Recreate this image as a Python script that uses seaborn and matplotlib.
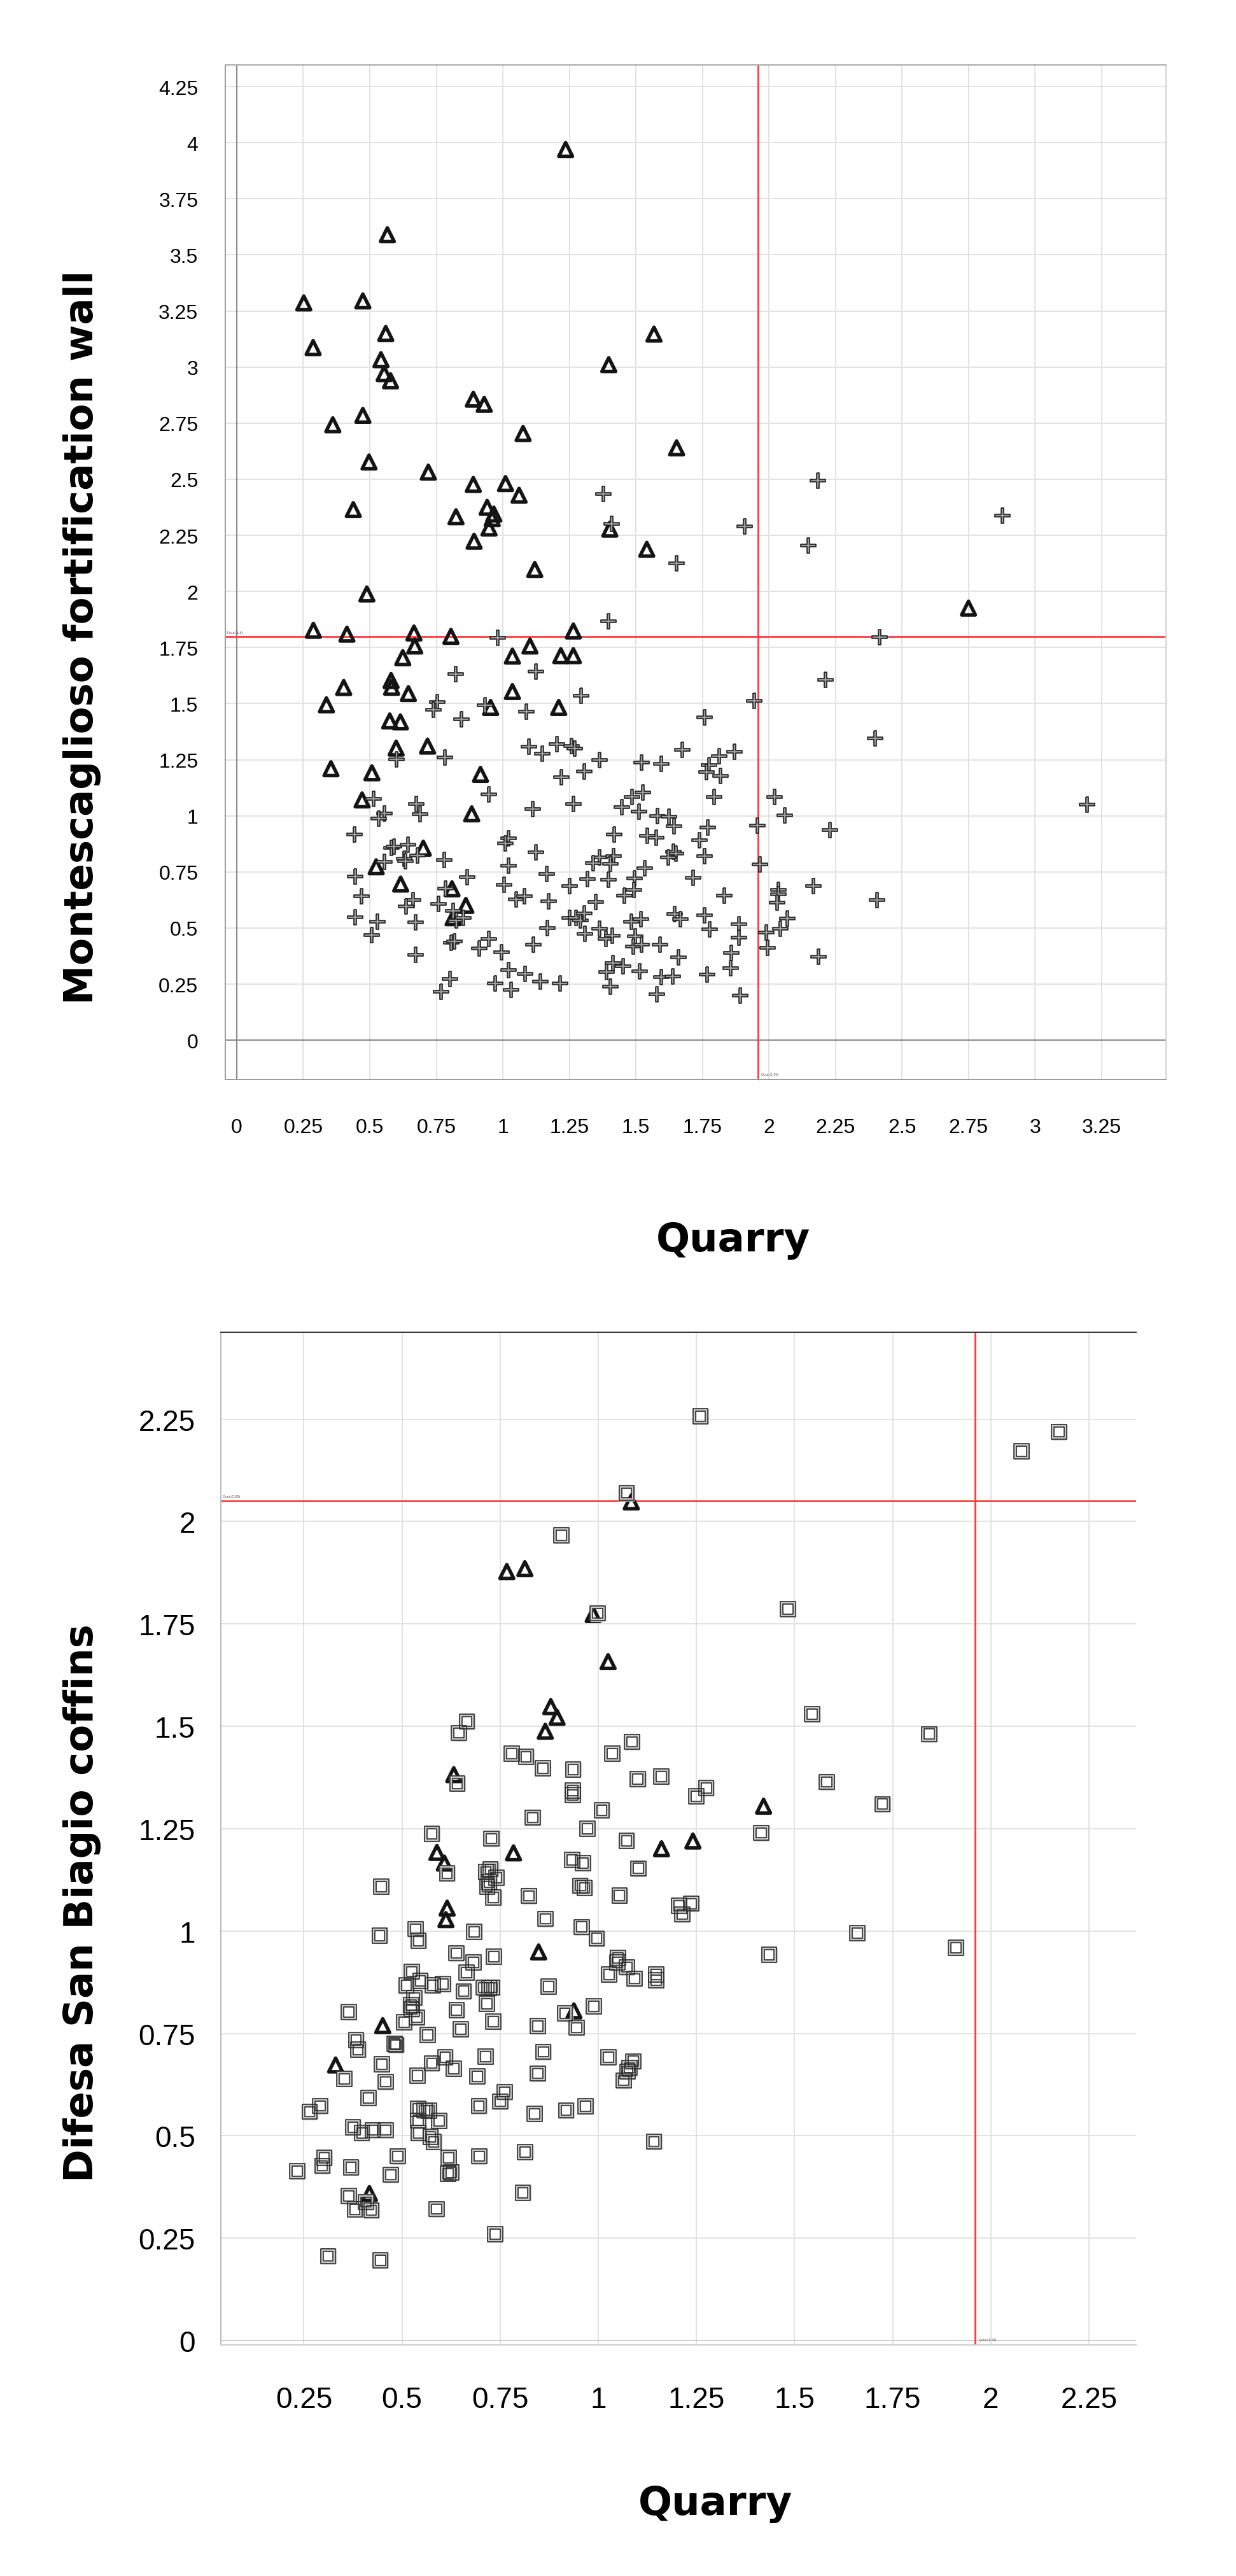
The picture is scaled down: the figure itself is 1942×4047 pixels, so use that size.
import seaborn as sns
import matplotlib.pyplot as plt
import warnings

warnings.filterwarnings("ignore")

# ---------------- data ----------------
# upper panel: Montescaglioso fortification wall vs Quarry
top_tri_x = [1.236, 0.566, 0.252, 0.474, 0.287, 0.560, 1.568, 0.542, 1.398, 0.554, 0.578,
             0.889, 0.930, 0.474, 0.361, 1.076, 1.653, 0.497, 0.720, 0.889, 1.010, 1.061,
             0.438, 0.824, 0.941, 0.966, 0.960, 0.948, 1.402, 0.892, 1.541, 1.120, 0.489,
             2.750, 0.288, 0.414, 0.666, 0.805, 0.669, 0.624, 1.102, 1.036, 1.218, 1.265,
             1.265, 0.402, 0.337, 0.580, 0.582, 0.645, 1.036, 0.954, 1.210, 0.575, 0.615,
             0.599, 0.717, 0.354, 0.508, 0.916, 0.471, 0.883, 0.701, 0.524, 0.616, 0.809,
             0.861, 0.813]
top_tri_y = [3.970, 3.590, 3.286, 3.295, 3.087, 3.150, 3.147, 3.033, 3.011, 2.971, 2.939,
             2.857, 2.834, 2.785, 2.743, 2.704, 2.640, 2.577, 2.532, 2.477, 2.481, 2.429,
             2.365, 2.333, 2.375, 2.345, 2.325, 2.283, 2.278, 2.224, 2.188, 2.098, 1.989,
             1.926, 1.827, 1.810, 1.815, 1.800, 1.757, 1.705, 1.757, 1.712, 1.714, 1.714,
             1.824, 1.572, 1.495, 1.603, 1.573, 1.545, 1.554, 1.483, 1.483, 1.423, 1.419,
             1.302, 1.311, 1.210, 1.192, 1.185, 1.071, 1.009, 0.856, 0.773, 0.696, 0.675,
             0.601, 0.546]

top_plus_x = [0.980, 0.823, 1.124, 0.753, 0.739, 0.845, 0.932, 1.089, 1.098, 1.147, 1.203,
              1.258, 0.601, 0.783, 1.219, 0.948, 1.112, 1.265, 0.515, 0.675, 0.688, 0.555,
              0.534, 0.442, 0.582, 0.592, 0.643, 0.629, 0.633, 0.680, 0.554, 0.781, 1.022,
              1.010, 1.124, 1.022, 0.446, 0.866, 1.165, 1.004, 1.251, 0.468, 0.785, 0.663,
              0.637, 0.759, 1.050, 1.080, 1.171, 0.813, 0.825, 0.852, 0.446, 0.528, 0.673,
              0.508, 1.167, 1.251, 0.805, 0.817, 0.948, 0.911, 0.994, 1.114, 0.673, 1.022,
              1.084, 1.141, 1.215, 0.972, 1.032, 0.802, 0.769,
              1.397, 2.213, 1.295, 1.945, 1.757, 1.271, 1.363, 1.307, 1.522, 1.596, 1.674,
              1.812, 1.871, 1.776, 1.765, 1.817, 1.795, 2.020, 2.060, 1.446, 1.486, 1.526,
              1.512, 1.582, 1.623, 1.644, 1.771, 1.957, 1.419, 1.544, 1.576, 1.739, 1.642,
              1.650, 1.622, 1.759, 1.363, 1.339, 1.415, 1.403, 1.534, 1.965, 1.319, 1.397,
              1.494, 1.716, 1.493, 1.456, 1.349, 1.832, 2.036, 2.036, 2.030, 2.166, 1.275,
              1.291, 1.307, 1.309, 1.363, 1.387, 1.411, 1.482, 1.520, 1.498, 1.490, 1.522,
              1.590, 1.646, 1.667, 1.757, 1.777, 1.887, 1.887, 1.859, 1.857, 1.660, 1.413,
              1.451, 1.389, 1.403, 1.513, 1.596, 1.638, 1.579, 1.767, 1.893, 1.991, 1.994,
              2.042, 2.070, 2.186, 2.230,
              1.378, 2.184, 1.410, 1.908, 2.878, 2.148, 1.653, 2.415, 2.400, 2.406, 3.195]
top_plus_y = [1.794, 1.632, 1.644, 1.508, 1.474, 1.431, 1.493, 1.465, 1.308, 1.277, 1.320,
              1.310, 1.253, 1.259, 1.171, 1.096, 1.031, 1.052, 1.077, 1.052, 1.007, 1.011,
              0.989, 0.917, 0.856, 0.862, 0.872, 0.810, 0.798, 0.822, 0.794, 0.804, 0.899,
              0.878, 0.837, 0.779, 0.730, 0.728, 0.740, 0.693, 0.687, 0.642, 0.677, 0.626,
              0.595, 0.607, 0.629, 0.642, 0.620, 0.577, 0.533, 0.546, 0.548, 0.527, 0.525,
              0.469, 0.499, 0.546, 0.435, 0.441, 0.453, 0.408, 0.392, 0.425, 0.382, 0.312,
              0.297, 0.263, 0.253, 0.253, 0.226, 0.273, 0.216,
              1.868, 1.607, 1.534, 1.514, 1.438, 1.299, 1.249, 1.198, 1.237, 1.231, 1.295,
              1.265, 1.286, 1.226, 1.195, 1.179, 1.083, 1.085, 1.003, 1.038, 1.085, 1.104,
              1.019, 0.998, 0.997, 0.954, 0.949, 0.958, 0.918, 0.912, 0.903, 0.890, 0.841,
              0.831, 0.816, 0.820, 0.816, 0.789, 0.820, 0.786, 0.767, 0.783, 0.718, 0.716,
              0.721, 0.724, 0.669, 0.644, 0.617, 0.644, 0.669, 0.650, 0.613, 0.687, 0.546,
              0.533, 0.564, 0.474, 0.497, 0.451, 0.466, 0.527, 0.540, 0.462, 0.417, 0.425,
              0.425, 0.562, 0.540, 0.556, 0.494, 0.518, 0.457, 0.390, 0.321, 0.370, 0.343,
              0.330, 0.303, 0.238, 0.306, 0.281, 0.284, 0.204, 0.294, 0.199, 0.481, 0.413,
              0.497, 0.542, 0.373, 0.937,
              2.436, 2.494, 2.302, 2.291, 2.338, 2.206, 2.125, 1.797, 1.344, 0.624, 1.051]

# lower panel: Difesa San Biagio coffins vs Quarry
bot_sq_x = [0.665, 0.645, 0.641, 0.576, 0.728,
            1.260, 1.072, 0.906, 0.998, 0.780, 0.816, 0.859, 0.936, 0.935, 0.935, 1.036,
            1.086, 1.101, 1.160, 1.250, 1.275, 0.833, 1.009, 0.972, 1.072,
            0.615, 0.714, 0.725, 0.741, 0.722, 0.717, 0.733, 0.447, 0.443, 0.535, 0.542,
            0.684, 0.638, 0.734, 0.682, 0.664, 0.525, 0.547, 0.511, 0.578, 0.604, 0.657,
            0.708, 0.722, 0.729, 0.531, 0.523, 0.525, 0.538, 0.505, 0.716, 0.639, 0.732,
            0.650, 0.566, 0.364, 0.383, 0.388, 0.481, 0.485, 0.353, 0.449, 0.458, 0.415,
            0.292, 0.265, 0.375, 0.398, 0.425, 0.459, 0.302, 0.297, 0.233, 0.370, 0.364,
            0.380, 0.408, 0.422, 0.312, 0.445, 0.489, 0.471, 0.540, 0.576, 0.610, 0.632,
            0.692, 0.713, 0.541, 0.557, 0.569, 0.541, 0.595, 0.542, 0.573, 0.581, 0.696,
            0.750, 0.762, 0.619, 0.617, 0.626, 0.697, 0.588, 0.737,
            0.933, 0.961, 1.102, 0.823, 0.954, 0.965, 1.054, 1.206, 1.237, 1.214, 0.865,
            0.958, 0.996, 1.050, 1.049, 1.073, 1.027, 1.092, 1.147, 1.147, 0.873, 0.989,
            0.915, 0.945, 0.846, 0.860, 0.846, 1.026, 1.089, 1.079, 1.075, 1.065, 0.838,
            0.918, 0.968, 1.142, 0.814, 0.808,
            2.078, 2.174, 1.483, 1.545, 1.843, 1.582, 1.724, 1.415, 1.660, 1.911, 1.435]
bot_sq_y = [1.512, 1.484, 1.360, 1.237, 1.226,
            2.257, 2.070, 1.967, 1.776, 1.433, 1.426, 1.398, 1.394, 1.343, 1.332, 1.433,
            1.462, 1.371, 1.377, 1.329, 1.349, 1.277, 1.295, 1.250, 1.220,
            1.141, 1.144, 1.151, 1.130, 1.119, 1.108, 1.082, 1.108, 0.989, 1.005, 0.976,
            0.998, 0.946, 0.937, 0.923, 0.899, 0.901, 0.878, 0.867, 0.868, 0.871, 0.853,
            0.862, 0.861, 0.862, 0.837, 0.819, 0.809, 0.789, 0.777, 0.822, 0.807, 0.779,
            0.760, 0.746, 0.802, 0.734, 0.711, 0.725, 0.722, 0.639, 0.675, 0.632, 0.592,
            0.573, 0.559, 0.521, 0.507, 0.514, 0.514, 0.446, 0.427, 0.414, 0.423, 0.353,
            0.320, 0.338, 0.318, 0.206, 0.196, 0.450, 0.405, 0.647, 0.677, 0.692, 0.664,
            0.645, 0.693, 0.566, 0.562, 0.561, 0.537, 0.536, 0.507, 0.498, 0.485, 0.573,
            0.584, 0.607, 0.446, 0.407, 0.411, 0.450, 0.321, 0.260,
            1.174, 1.166, 1.153, 1.086, 1.111, 1.105, 1.087, 1.062, 1.067, 1.041, 1.030,
            1.010, 0.982, 0.934, 0.923, 0.912, 0.894, 0.884, 0.894, 0.880, 0.864, 0.816,
            0.799, 0.764, 0.768, 0.705, 0.652, 0.692, 0.682, 0.666, 0.657, 0.635, 0.554,
            0.562, 0.572, 0.486, 0.460, 0.361,
            2.172, 2.219, 1.786, 1.530, 1.481, 1.364, 1.310, 1.240, 0.995, 0.959, 0.942]

bot_tri_x = [1.084, 0.767, 0.813, 0.987, 1.025, 0.879, 0.895, 0.865, 0.632, 1.421, 0.589,
             0.608, 0.784, 1.161, 1.241, 0.615, 0.612, 0.848, 0.938, 0.451, 0.331, 0.417]
bot_tri_y = [2.048, 1.878, 1.885, 1.773, 1.658, 1.548, 1.522, 1.488, 1.382, 1.305, 1.192,
             1.166, 1.191, 1.201, 1.220, 1.056, 1.028, 0.949, 0.805, 0.769, 0.673, 0.359]

# cut-off lines
top_qcut, top_dcut = 1.96, 1.8
bot_qcut, bot_dcut = 1.96, 2.05

top_xticks = [0, 0.25, 0.5, 0.75, 1, 1.25, 1.5, 1.75, 2, 2.25, 2.5, 2.75, 3, 3.25]
top_yticks = [0, 0.25, 0.5, 0.75, 1, 1.25, 1.5, 1.75, 2, 2.25, 2.5, 2.75, 3, 3.25, 3.5,
              3.75, 4, 4.25]
bot_xticks = [0.25, 0.5, 0.75, 1, 1.25, 1.5, 1.75, 2, 2.25]
bot_yticks = [0, 0.25, 0.5, 0.75, 1, 1.25, 1.5, 1.75, 2, 2.25]

# ---------------- styling ----------------
sns.set_style("white")
plt.rcParams['font.family'] = ['Liberation Sans', 'DejaVu Sans']

w = 0.13
plus_marker = [(-w, 1), (w, 1), (w, w), (1, w), (1, -w), (w, -w), (w, -1), (-w, -1),
               (-w, -w), (-1, -w), (-1, w), (-w, w), (-w, 1)]


def fmt(v):
    return f"{v:g}"


def style_axes(ax, xticks, yticks, size, xpad, ypad):
    ax.set_xticks(xticks)
    ax.set_xticklabels([fmt(v) for v in xticks])
    ax.set_yticks(yticks)
    ax.set_yticklabels([fmt(v) for v in yticks])
    ax.tick_params(length=0, labelsize=size, colors='black')
    ax.tick_params(axis='x', pad=xpad)
    ax.tick_params(axis='y', pad=ypad)
    ax.grid(True, color='#e2e2e2', linewidth=1.4)
    ax.set_axisbelow(True)
    ax.set_xlabel("")
    ax.set_ylabel("")


fig = plt.figure(figsize=(19.42, 40.48), dpi=100)

# ---- upper panel ----
ax1 = fig.add_axes([0.1825, 0.5808, 0.7606, 0.3937])
ax1.axhline(0, color='#8a8a8a', lw=1.5, zorder=1)
ax1.axvline(0, color='#8a8a8a', lw=1.5, zorder=1)
ax1.axhline(top_dcut, color='#ff3b3b', lw=2, zorder=1.5)
ax1.axvline(top_qcut, color='#ff3b3b', lw=2, zorder=1.5)
sns.scatterplot(x=top_tri_x, y=top_tri_y, marker='^', s=240, facecolor='none',
                edgecolor='#141414', linewidth=4.0, ax=ax1, zorder=3)
sns.scatterplot(x=top_plus_x, y=top_plus_y, marker=plus_marker, s=300, facecolor='#9c9c9c',
                edgecolor='#1e1e1e', linewidth=1.2, ax=ax1, zorder=4)
ax1.set_xlim(-0.042, 3.491)
ax1.set_ylim(-0.175, 4.346)
style_axes(ax1, top_xticks, top_yticks, 23, 43, 31)
for side, col in [('left', '#9a9a9a'), ('bottom', '#9a9a9a'), ('top', '#a8a8a8'),
                  ('right', '#d2d2d2')]:
    ax1.spines[side].set_color(col)
    ax1.spines[side].set_linewidth(1.4)
ax1.text(0.002, top_dcut + 0.01, f"Dcut ({fmt(top_dcut)})", fontsize=4, color='#555555',
         transform=ax1.get_yaxis_transform(), va='bottom')
ax1.text(top_qcut + 0.01, 0.004, f"Qcut ({fmt(top_qcut)})", fontsize=4, color='#555555',
         transform=ax1.get_xaxis_transform(), va='bottom')

# ---- lower panel ----
ax2 = fig.add_axes([0.1787, 0.0897, 0.7402, 0.3929])
ax2.axhline(0, color='#d0d0d0', lw=1.4, zorder=1)
ax2.axhline(bot_dcut, color='#ff3b3b', lw=2, zorder=1.5)
ax2.axvline(bot_qcut, color='#ff3b3b', lw=2, zorder=1.5)
sns.scatterplot(x=bot_tri_x, y=bot_tri_y, marker='^', s=240, facecolor='none',
                edgecolor='#141414', linewidth=4.0, ax=ax2, zorder=3)
# double-outlined hollow squares: grey band between two dark outlines
sns.scatterplot(x=bot_sq_x, y=bot_sq_y, marker='s', s=215, facecolor='none',
                edgecolor='#c9c9c9', linewidth=3.8, ax=ax2, zorder=4)
sns.scatterplot(x=bot_sq_x, y=bot_sq_y, marker='s', s=290, facecolor='none',
                edgecolor='#2e2e2e', linewidth=1.2, ax=ax2, zorder=4)
sns.scatterplot(x=bot_sq_x, y=bot_sq_y, marker='s', s=128, facecolor='none',
                edgecolor='#2e2e2e', linewidth=1.2, ax=ax2, zorder=4)
ax2.set_xlim(0.0387, 2.369)
ax2.set_ylim(-0.0106, 2.4617)
style_axes(ax2, bot_xticks, bot_yticks, 33, 46, 29)
ax2.spines['top'].set_color('#333333')
ax2.spines['left'].set_color('#bbbbbb')
ax2.spines['bottom'].set_color('#cccccc')
ax2.spines['right'].set_visible(False)
for side in ['top', 'left', 'bottom']:
    ax2.spines[side].set_linewidth(1.4)
ax2.text(0.002, bot_dcut + 0.008, f"Dcut ({fmt(bot_dcut)})", fontsize=4, color='#555555',
         transform=ax2.get_yaxis_transform(), va='bottom')
ax2.text(bot_qcut + 0.01, 0.004, f"Qcut ({fmt(bot_qcut)})", fontsize=4, color='#555555',
         transform=ax2.get_xaxis_transform(), va='bottom')

# ---- axis titles ----
lab = dict(fontsize=45, fontweight='bold', family='DejaVu Sans', color='black',
           ha='center', va='center')
fig.text(0.0664, 0.7527, "Montescaglioso fortification wall", rotation=90, **lab)
fig.text(0.0664, 0.2615, "Difesa San Biagio coffins", rotation=90, **lab)
fig.text(0.5932, 0.5185, "Quarry", **lab)
fig.text(0.5790, 0.0282, "Quarry", **lab)

fig.savefig("out.png", dpi=100, facecolor='white')
